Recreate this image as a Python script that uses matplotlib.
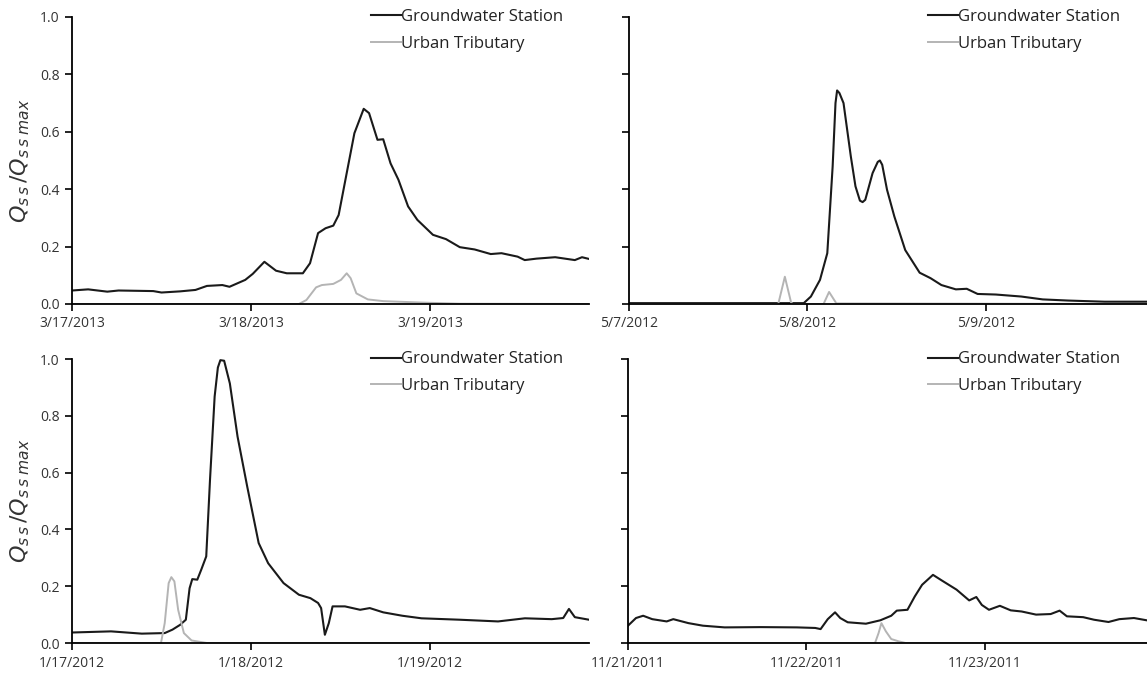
import numpy as np
import matplotlib
matplotlib.use("Agg")
import matplotlib.pyplot as plt

###############################################################################
# data (x in days since the first tick, y normalised)

tl_labels = ["3/17/2013", "3/18/2013", "3/19/2013"]
tl_gw_x = [0, 0.09, 0.197, 0.26, 0.454, 0.5, 0.604, 0.69, 0.754, 0.84, 0.88, 0.968, 1.01, 1.075,
           1.14, 1.2, 1.29, 1.33, 1.375, 1.417, 1.46, 1.49, 1.535, 1.578, 1.63, 1.66, 1.707,
           1.739, 1.78, 1.824, 1.878, 1.93, 2.017, 2.09, 2.167, 2.25, 2.34, 2.4, 2.49, 2.53,
           2.595, 2.7, 2.81, 2.85, 2.889]
tl_gw_y = [0.047, 0.051, 0.043, 0.047, 0.045, 0.04, 0.044, 0.049, 0.063, 0.066, 0.06, 0.084, 0.105,
           0.147, 0.116, 0.107, 0.107, 0.142, 0.247, 0.264, 0.273, 0.31, 0.456, 0.595, 0.68, 0.665,
           0.572, 0.574, 0.49, 0.433, 0.34, 0.293, 0.241, 0.226, 0.198, 0.19, 0.174, 0.177, 0.165,
           0.153, 0.158, 0.163, 0.153, 0.163, 0.157]
tl_ut_x = [0, 1.268, 1.31, 1.364, 1.396, 1.46, 1.503, 1.535, 1.557, 1.589, 1.653, 1.739, 1.953, 2.167, 2.889]
tl_ut_y = [0, 0, 0.014, 0.058, 0.066, 0.07, 0.084, 0.107, 0.09, 0.037, 0.016, 0.01, 0.005, 0.001, 0]

tr_labels = ["5/7/2012", "5/8/2012", "5/9/2012"]
tr_gw_x = [0, 0.98, 1.02, 1.071, 1.112, 1.142, 1.158, 1.167, 1.18, 1.203, 1.244, 1.27, 1.295,
           1.31, 1.325, 1.366, 1.395, 1.407, 1.42, 1.447, 1.488, 1.549, 1.63, 1.691, 1.752,
           1.833, 1.894, 1.955, 2.057, 2.2, 2.32, 2.463, 2.667, 2.9]
tr_gw_y = [0.003, 0.003, 0.026, 0.084, 0.177, 0.479, 0.70, 0.744, 0.735, 0.70, 0.514, 0.41, 0.36,
           0.355, 0.363, 0.456, 0.495, 0.50, 0.485, 0.398, 0.305, 0.188, 0.109, 0.09, 0.066,
           0.051, 0.053, 0.035, 0.033, 0.026, 0.016, 0.012, 0.008, 0.008]
tr_ut_x = [0, 0.837, 0.874, 0.909, 0.919, 1.091, 1.122, 1.163, 2.9]
tr_ut_y = [0, 0, 0.095, 0.005, 0, 0, 0.042, 0.002, 0]

bl_labels = ["1/17/2012", "1/18/2012", "1/19/2012"]
bl_gw_x = [0, 0.218, 0.39, 0.518, 0.561, 0.604, 0.636, 0.657, 0.672, 0.70, 0.722, 0.75, 0.771,
           0.797, 0.815, 0.829, 0.85, 0.882, 0.925, 0.979, 1.043, 1.096, 1.182, 1.268, 1.332,
           1.375, 1.392, 1.413, 1.435, 1.456, 1.525, 1.61, 1.664, 1.739, 1.846, 1.953, 2.167,
           2.381, 2.531, 2.681, 2.745, 2.777, 2.81, 2.889]
bl_gw_y = [0.037, 0.041, 0.033, 0.035, 0.047, 0.064, 0.082, 0.193, 0.225, 0.223, 0.258, 0.305, 0.574,
           0.868, 0.97, 0.996, 0.994, 0.914, 0.727, 0.551, 0.352, 0.281, 0.211, 0.17, 0.158,
           0.141, 0.123, 0.029, 0.07, 0.129, 0.129, 0.117, 0.123, 0.108, 0.096, 0.087, 0.082,
           0.076, 0.087, 0.084, 0.088, 0.12, 0.091, 0.082]
bl_ut_x = [0, 0.497, 0.518, 0.54, 0.555, 0.572, 0.593, 0.625, 0.668, 0.754, 2.889]
bl_ut_y = [0, 0, 0.07, 0.211, 0.232, 0.217, 0.117, 0.035, 0.009, 0, 0]

br_labels = ["11/21/2011", "11/22/2011", "11/23/2011"]
br_gw_x = [0, 0.045, 0.085, 0.136, 0.217, 0.254, 0.339, 0.42, 0.542, 0.745, 0.948, 1.05, 1.08,
           1.12, 1.161, 1.19, 1.232, 1.334, 1.415, 1.476, 1.507, 1.567, 1.608, 1.649, 1.71,
           1.76, 1.842, 1.913, 1.953, 1.984, 2.024, 2.085, 2.146, 2.207, 2.288, 2.37, 2.42,
           2.461, 2.552, 2.613, 2.694, 2.755, 2.837, 2.908]
br_gw_y = [0.061, 0.088, 0.096, 0.084, 0.076, 0.084, 0.07, 0.061, 0.055, 0.056, 0.055, 0.053, 0.049,
           0.084, 0.108, 0.088, 0.073, 0.068, 0.08, 0.096, 0.114, 0.117, 0.164, 0.205, 0.24,
           0.22, 0.188, 0.15, 0.162, 0.134, 0.117, 0.131, 0.115, 0.111, 0.1, 0.102, 0.114,
           0.094, 0.091, 0.082, 0.074, 0.084, 0.088, 0.08]
br_ut_x = [0, 1.385, 1.405, 1.421, 1.446, 1.476, 1.517, 1.557, 2.908]
br_ut_y = [0, 0, 0.035, 0.07, 0.041, 0.014, 0.006, 0, 0]

yticks = [0.0, 0.2, 0.4, 0.6, 0.8, 1.0]

###############################################################################

plt.rcParams['font.family'] = ['Open Sans', 'DejaVu Sans']

fig = plt.figure(figsize=(11.47, 6.76), dpi=100)

# [left, bottom, width, height] in figure fraction
boxes = [[0.0628, 0.5503, 0.4507, 0.4246],
         [0.5484, 0.5503, 0.4516, 0.4246],
         [0.0628, 0.0488, 0.4507, 0.4201],
         [0.5475, 0.0488, 0.4525, 0.4201]]

panels = [(tl_labels, tl_gw_x, tl_gw_y, tl_ut_x, tl_ut_y, 2.889, True),
          (tr_labels, tr_gw_x, tr_gw_y, tr_ut_x, tr_ut_y, 2.905, False),
          (bl_labels, bl_gw_x, bl_gw_y, bl_ut_x, bl_ut_y, 2.889, True),
          (br_labels, br_gw_x, br_gw_y, br_ut_x, br_ut_y, 2.91, False)]

for box, (labels, gx, gy, ux, uy, xmax, left) in zip(boxes, panels):
    ax = fig.add_axes(box)
    ax.plot(gx, gy, color='#1a1a1a', lw=1.5, solid_joinstyle='round', label='Groundwater Station')
    ax.plot(ux, uy, color='#b4b4b4', lw=1.4, solid_joinstyle='round', label='Urban Tributary')
    ax.set_xlim(0, xmax)
    ax.set_ylim(0, 1.0)
    ax.set_xticks(range(len(labels)))
    ax.set_xticklabels(labels)
    ax.set_yticks(yticks)
    for s in ['top', 'right']:
        ax.spines[s].set_visible(False)
    for s in ['left', 'bottom']:
        ax.spines[s].set_linewidth(1.3)
        ax.spines[s].set_color('black')
    ax.tick_params(direction='out', length=5, width=1.2, labelsize=10,
                   labelcolor='#333333', pad=4)
    if left:
        ax.set_yticklabels(['%.1f' % v for v in yticks])
        ax.set_ylabel(r'$Q_{s\,s}\,/Q_{s\,s\;max}$', fontsize=16, color='#333333', labelpad=6)
    else:
        ax.set_yticklabels([])
    leg = ax.legend(loc='upper left', bbox_to_anchor=(0.565, 1.05), frameon=False,
                    fontsize=12, handlelength=1.8, handletextpad=0.0,
                    labelspacing=0.65, borderaxespad=0)
    for t in leg.get_texts():
        t.set_color('#222222')

plt.savefig('out.png', dpi=100)
